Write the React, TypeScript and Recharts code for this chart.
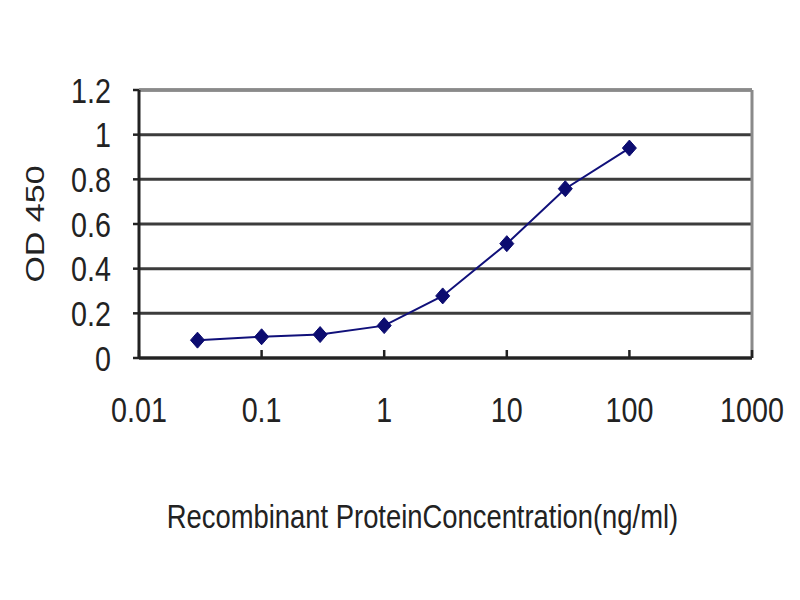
import React from "react";
import {
  LineChart,
  Line,
  XAxis,
  YAxis,
  CartesianGrid,
  ReferenceLine,
  Label,
} from "recharts";

const concentrations = [0.03, 0.1, 0.3, 1, 3, 10, 30, 100];
const od450 = [0.08, 0.095, 0.105, 0.145, 0.278, 0.512, 0.758, 0.94];
const xTicks = [0.01, 0.1, 1, 10, 100, 1000];
const xTickLabels = ["0.01", "0.1", "1", "10", "100", "1000"];
const yTicks = [0, 0.2, 0.4, 0.6, 0.8, 1, 1.2];
const yTickLabels = ["0", "0.2", "0.4", "0.6", "0.8", "1", "1.2"];
const xTitle = "Recombinant ProteinConcentration(ng/ml)";
const yTitle = "OD 450";

const data = concentrations.map((c, i) => ({ conc: c, od: od450[i] }));

const FONT = "'Liberation Sans', Arial, sans-serif";
const X_TICK_MARGIN = 39;

const ScaledText = (props: any) => {
  const { x, y, sx, children, anchor, dy, size } = props;
  return (
    <text
      transform={`translate(${x},${y}) scale(${sx},1)`}
      x={0}
      y={0}
      dy={dy}
      textAnchor={anchor}
      fontFamily={FONT}
      fontSize={size}
      fill="#222"
    >
      {children}
    </text>
  );
};

const XTick = (props: any) => {
  const { x, y, payload } = props;
  const idx = xTicks.indexOf(payload.value);
  const axisY = y - X_TICK_MARGIN;
  return (
    <g>
      <line x1={x} x2={x} y1={axisY} y2={axisY - 8} stroke="#222" strokeWidth={2.5} />
      <ScaledText x={x} y={y} sx={0.82} dy="0.71em" anchor="middle" size={35}>
        {idx >= 0 ? xTickLabels[idx] : String(payload.value)}
      </ScaledText>
    </g>
  );
};

const YTick = (props: any) => {
  const { x, y, payload } = props;
  const idx = yTicks.indexOf(payload.value);
  return (
    <ScaledText x={x} y={y} sx={0.82} dy="0.36em" anchor="end" size={35}>
      {idx >= 0 ? yTickLabels[idx] : String(payload.value)}
    </ScaledText>
  );
};

const Diamond = (props: any) => {
  const { cx, cy } = props;
  if (cx == null || cy == null) return null;
  return (
    <polygon
      points={`${cx},${cy - 8} ${cx + 7},${cy} ${cx},${cy + 8} ${cx - 7},${cy}`}
      fill="#0c0c70"
      stroke="#0c0c70"
      strokeWidth={1}
    />
  );
};

const XTitle = (props: any) => {
  const vb = props.viewBox || {};
  return (
    <ScaledText x={vb.x + vb.width / 2 - 23} y={vb.y + 170} sx={0.83} dy="0" anchor="middle" size={33}>
      {xTitle}
    </ScaledText>
  );
};

const YTitle = (props: any) => {
  const vb = props.viewBox || {};
  const cx = vb.x + 34;
  const cy = vb.y + vb.height / 2;
  return (
    <text
      transform={`translate(${cx},${cy}) rotate(-90) scale(1,0.78)`}
      x={0}
      y={0}
      dy="0.36em"
      textAnchor="middle"
      fontFamily={FONT}
      fontSize={34}
      fill="#222"
    >
      {yTitle}
    </text>
  );
};

export default function App() {
  return (
    <div style={{ position: "absolute", left: 0, top: 0, width: 800, height: 600, background: "#fff" }}>
      <LineChart
        width={800}
        height={600}
        data={data}
        margin={{ top: 90, right: 48, left: 0, bottom: 0 }}
      >
        <CartesianGrid horizontal vertical={false} stroke="#3c3c3c" strokeWidth={3} />
        <XAxis
          dataKey="conc"
          type="number"
          scale="log"
          domain={[0.01, 1000]}
          allowDataOverflow
          ticks={xTicks}
          interval={0}
          height={242}
          tickSize={0}
          tickMargin={X_TICK_MARGIN}
          tickLine={false}
          tick={<XTick />}
          axisLine={{ stroke: "#222", strokeWidth: 3 }}
        >
          <Label content={<XTitle />} />
        </XAxis>
        <YAxis
          type="number"
          domain={[0, 1.2]}
          ticks={yTicks}
          interval={0}
          width={139}
          tickSize={6}
          tickMargin={22}
          tickLine={{ stroke: "#222", strokeWidth: 2.5 }}
          tick={<YTick />}
          axisLine={{ stroke: "#222", strokeWidth: 3 }}
        >
          <Label content={<YTitle />} />
        </YAxis>
        <ReferenceLine y={1.2} stroke="#8a8a8a" strokeWidth={3} />
        <ReferenceLine x={1000} stroke="#8a8a8a" strokeWidth={3} />
        <Line
          type="linear"
          dataKey="od"
          stroke="#10107a"
          strokeWidth={2}
          dot={<Diamond />}
          activeDot={false}
          isAnimationActive={false}
        />
      </LineChart>
    </div>
  );
}
